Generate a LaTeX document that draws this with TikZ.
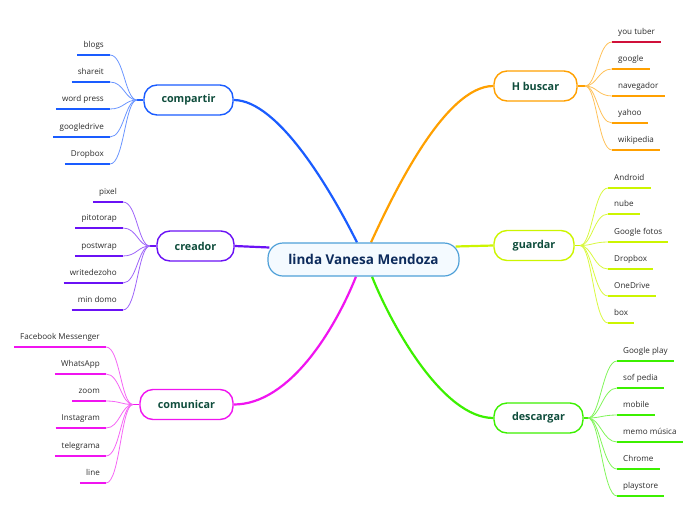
\documentclass[tikz,border=0pt]{standalone}
\usepackage{fontspec}
\setmainfont{Open Sans}
\usetikzlibrary{backgrounds}
\definecolor{cblue}{HTML}{1A5CFF}
\definecolor{cpurple}{HTML}{6A11F5}
\definecolor{cmag}{HTML}{F014F0}
\definecolor{corange}{HTML}{FFA000}
\definecolor{cyel}{HTML}{CCF500}
\definecolor{cgreen}{HTML}{3CF000}
\definecolor{cred}{HTML}{D0103A}
\definecolor{brtxt}{HTML}{0F4D3C}
\definecolor{ctrtxt}{HTML}{0D2B5C}
\definecolor{ctrline}{HTML}{4FA0D8}
\definecolor{ctrfill}{HTML}{F4FAFF}
\definecolor{leaftxt}{HTML}{2A2A2A}
\begin{document}
\begin{tikzpicture}[x=1pt,y=-1pt,
  leaf/.style={inner xsep=6pt, inner ysep=0pt, text height=6.3pt, text depth=1.9pt,
    minimum height=19pt, font=\fontsize{8.1}{9.5}\selectfont, text=leaftxt},
  ul/.style={line width=2.2pt},
  twig/.style={line width=0.8pt},
  stub/.style={line width=1.6pt},
  mainline/.style={line width=2.2pt},
  branch/.style={draw=#1, line width=1.4pt, fill=white, rounded corners=13pt,
    minimum height=30pt, inner sep=0pt, text=brtxt,
    font=\fontsize{10.8}{12}\selectfont\bfseries},
  center/.style={draw=ctrline, line width=1.2pt, fill=ctrfill, rounded corners=15pt,
    minimum height=33pt, minimum width=191pt, inner sep=0pt, text=ctrtxt,
    font=\fontsize{13.5}{15}\selectfont\bfseries}]
\useasboundingbox (0,0) rectangle (696,520);

% central and branch nodes
\node[center] (ctr) at (363.5,259.5) {linda Vanesa Mendoza};
\node[branch=cblue, minimum width=89pt] (comp) at (188.5,100) {compartir};
\node[branch=cpurple, minimum width=77pt] (cre) at (195.5,246) {creador};
\node[branch=cmag, minimum width=93pt] (com) at (186.5,404.5) {comunicar};
\node[branch=corange, minimum width=83pt] (hb) at (535.5,86) {H buscar};
\node[branch=cyel, minimum width=80pt] (gua) at (534,245.5) {guardar};
\node[branch=cgreen, minimum width=89pt] (des) at (538.5,418) {descargar};

% main connectors
\begin{scope}[on background layer]
\draw[mainline, cblue] ([xshift=-6.5pt]ctr.north) .. controls +(-25,-50) and +(45,0) .. (comp.east);
\draw[mainline, corange] ([xshift=7.5pt]ctr.north) .. controls +(23,-50) and +(-48,0) .. (hb.west);
\draw[mainline, cmag] ([xshift=-7.5pt]ctr.south) .. controls +(-20,50) and +(57,0) .. (com.east);
\draw[mainline, cgreen] ([xshift=8.5pt]ctr.south) .. controls +(20,50) and +(-50,0) .. (des.west);
\draw[mainline, cpurple] (cre.east) -- ([xshift=2pt,yshift=12pt]ctr.west);
\draw[mainline, cyel] ([xshift=-4pt,yshift=13pt]ctr.east) -- (gua.west);
\end{scope}

% junction points
\coordinate (jcomp) at (137,100);
\coordinate (jcre) at (150,246);
\coordinate (jcom) at (133,404.5);
\coordinate (jhb) at (585,86);
\coordinate (jgua) at (580,245.5);
\coordinate (jdes) at (588,418);
\draw[stub, cblue] (comp.west) -- (jcomp);
\draw[stub, cpurple] (cre.west) -- (jcre);
\draw[stub, cmag] (com.west) -- (jcom);
\draw[stub, corange] (hb.east) -- (jhb);
\draw[stub, cyel] (gua.east) -- (jgua);
\draw[stub, cgreen] (des.east) -- (jdes);

% compartir leaves
\foreach \t/\y [count=\i] in {blogs/55, shareit/82, word press/109, googledrive/137, Dropbox/164} {
  \node[leaf, anchor=south east] (cp\i) at (110,\y) {\t};
  \draw[ul, cblue] (cp\i.south west) -- (cp\i.south east);
  \draw[twig, cblue!65] (cp\i.south east) .. controls +(14,0) and +(-12,0) .. (jcomp);
}
% creador leaves
\foreach \t/\y [count=\i] in {pixel/202, pitotorap/228, postwrap/256, writedezoho/283, min domo/310} {
  \node[leaf, anchor=south east] (cr\i) at (123,\y) {\t};
  \draw[ul, cpurple] (cr\i.south west) -- (cr\i.south east);
  \draw[twig, cpurple!65] (cr\i.south east) .. controls +(14,0) and +(-12,0) .. (jcre);
}
% comunicar leaves
\foreach \t/\y [count=\i] in {Facebook Messenger/347, WhatsApp/374, zoom/401, Instagram/428, telegrama/456, line/483} {
  \node[leaf, anchor=south east] (cm\i) at (106,\y) {\t};
  \draw[ul, cmag] (cm\i.south west) -- (cm\i.south east);
  \draw[twig, cmag!65] (cm\i.south east) .. controls +(14,0) and +(-12,0) .. (jcom);
}
% H buscar leaves
\foreach \t/\y/\c [count=\i] in {you tuber/42/cred, google/69/corange, navegador/96/corange, yahoo/123/corange, wikipedia/150/corange} {
  \node[leaf, anchor=south west] (hb\i) at (612,\y) {\t};
  \draw[ul, \c] (hb\i.south west) -- (hb\i.south east);
  \draw[twig, corange!65] (hb\i.south west) .. controls +(-14,0) and +(12,0) .. (jhb);
}
% guardar leaves
\foreach \t/\y [count=\i] in {Android/188, nube/214, Google fotos/242, Dropbox/269, OneDrive/296, box/323} {
  \node[leaf, anchor=south west] (gu\i) at (608,\y) {\t};
  \draw[ul, cyel] (gu\i.south west) -- (gu\i.south east);
  \draw[twig, cyel!75] (gu\i.south west) .. controls +(-14,0) and +(12,0) .. (jgua);
}
% descargar leaves
\foreach \t/\y [count=\i] in {Google play/361, sof pedia/388, mobile/415, memo música/442, Chrome/469, playstore/496} {
  \node[leaf, anchor=south west] (de\i) at (617,\y) {\t};
  \draw[ul, cgreen] (de\i.south west) -- (de\i.south east);
  \draw[twig, cgreen!65] (de\i.south west) .. controls +(-14,0) and +(12,0) .. (jdes);
}
\end{tikzpicture}
\end{document}
